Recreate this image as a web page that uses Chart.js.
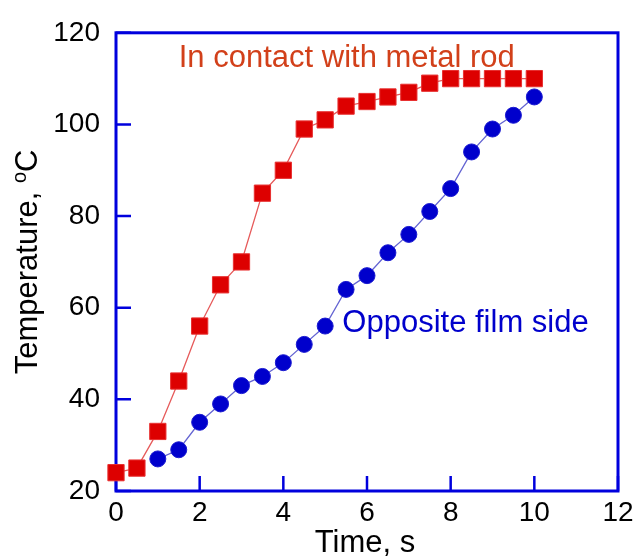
<!DOCTYPE html>
<html><head><meta charset="utf-8">
<script src="https://cdn.jsdelivr.net/npm/chart.js@4/dist/chart.umd.min.js"></script>
<style>html,body{margin:0;padding:0;background:#fff}#wrap{width:641px;height:556px}</style>
</head><body><div id="wrap"><canvas id="c" width="641" height="556"></canvas></div>
<script>
// ---- data ----
const timeContact = [0,0.5,1,1.5,2,2.5,3,3.5,4,4.5,5,5.5,6,6.5,7,7.5,8,8.5,9,9.5,10];
const tempContact = [24,25,33,44,56,65,70,85,90,99,101,104,105,106,107,109,110,110,110,110,110];
const timeOpposite = [1,1.5,2,2.5,3,3.5,4,4.5,5,5.5,6,6.5,7,7.5,8,8.5,9,9.5,10];
const tempOpposite = [27,29,35,39,43,45,48,52,56,64,67,72,76,81,86,94,99,102,106];
const xTicks = [0,2,4,6,8,10,12];
const yTicks = [20,40,60,80,100,120];
const labelContact = "In contact with metal rod";
const labelOpposite = "Opposite film side";
const xTitle = "Time, s";
const yTitleMain = "Temperature, ";
const yTitleSup = "o";
const yTitleUnit = "C";

const FONT = '"Liberation Sans", Arial, sans-serif';
const frameColor = '#0000dd';

const decor = {
  id: 'decor',
  beforeDatasetsDraw(chart) {
    const {ctx, chartArea: a, scales: {x, y}} = chart;
    ctx.save();
    ctx.strokeStyle = frameColor;
    ctx.lineWidth = 3;
    ctx.strokeRect(a.left, a.top, a.right - a.left, a.bottom - a.top);
    ctx.lineWidth = 2.5;
    ctx.beginPath();
    xTicks.forEach(v => { const p = x.getPixelForValue(v); ctx.moveTo(p, a.bottom); ctx.lineTo(p, a.bottom - 15); });
    yTicks.forEach(v => { const p = y.getPixelForValue(v); ctx.moveTo(a.left, p); ctx.lineTo(a.left + 15, p); });
    ctx.stroke();
    ctx.restore();
  },
  afterDraw(chart) {
    const {ctx, chartArea: a, scales: {x, y}} = chart;
    ctx.save();
    // annotations
    ctx.textBaseline = 'alphabetic';
    ctx.textAlign = 'left';
    ctx.font = '31px ' + FONT;
    ctx.fillStyle = '#d2401a';
    ctx.fillText(labelContact, x.getPixelForValue(1.5), y.getPixelForValue(112.6));
    ctx.fillStyle = '#0000cc';
    ctx.fillText(labelOpposite, x.getPixelForValue(5.41), y.getPixelForValue(54.8));
    // x title
    ctx.fillStyle = '#000';
    ctx.textAlign = 'center';
    ctx.font = '31px ' + FONT;
    ctx.fillText(xTitle, (a.left + a.right) / 2 - 2, 552);
    // y title with superscript
    ctx.translate(37, (a.top + a.bottom) / 2);
    ctx.rotate(-Math.PI / 2);
    ctx.textAlign = 'left';
    ctx.font = '31px ' + FONT;
    const w1 = ctx.measureText(yTitleMain).width;
    const w3 = ctx.measureText(yTitleUnit).width;
    ctx.font = '20px ' + FONT;
    const w2 = ctx.measureText(yTitleSup).width;
    let sx = -(w1 + w2 + w3) / 2;
    ctx.font = '31px ' + FONT;
    ctx.fillText(yTitleMain, sx, 0); sx += w1;
    ctx.font = '20px ' + FONT;
    ctx.fillText(yTitleSup, sx, -11); sx += w2;
    ctx.font = '31px ' + FONT;
    ctx.fillText(yTitleUnit, sx, 0);
    ctx.restore();
  }
};

new Chart(document.getElementById('c'), {
  type: 'scatter',
  data: {
    datasets: [
      {
        label: labelContact,
        data: timeContact.map((t, i) => ({x: t, y: tempContact[i]})),
        showLine: true,
        borderColor: '#e65a5a',
        borderWidth: 1.3,
        pointStyle: 'rect',
        pointRadius: 11.5,
        pointBackgroundColor: '#dd0000',
        pointBorderColor: '#e83030',
        pointBorderWidth: 1,
        clip: false
      },
      {
        label: labelOpposite,
        data: timeOpposite.map((t, i) => ({x: t, y: tempOpposite[i]})),
        showLine: true,
        borderColor: '#6464d2',
        borderWidth: 1.3,
        pointStyle: 'circle',
        pointRadius: 8,
        pointBackgroundColor: '#0000cc',
        pointBorderColor: '#1a1ad0',
        pointBorderWidth: 1,
        clip: false
      }
    ]
  },
  options: {
    responsive: false,
    animation: false,
    devicePixelRatio: 1,
    layout: {padding: {top: 31, right: 23, left: 0, bottom: 0}},
    plugins: {legend: {display: false}, tooltip: {enabled: false}},
    scales: {
      x: {
        type: 'linear', min: 0, max: 12,
        afterFit: s => { s.height = 65; },
        afterBuildTicks: s => { s.ticks = xTicks.map(v => ({value: v})); },
        grid: {display: false, drawTicks: false},
        border: {display: false},
        ticks: {color: '#000', font: {family: FONT, size: 28}, padding: 5}
      },
      y: {
        type: 'linear', min: 20, max: 120,
        afterFit: s => { s.width = 116; },
        afterBuildTicks: s => { s.ticks = yTicks.map(v => ({value: v})); },
        grid: {display: false, drawTicks: false},
        border: {display: false},
        ticks: {color: '#000', font: {family: FONT, size: 28}, padding: 16}
      }
    }
  },
  plugins: [decor]
});
</script>
</body></html>
